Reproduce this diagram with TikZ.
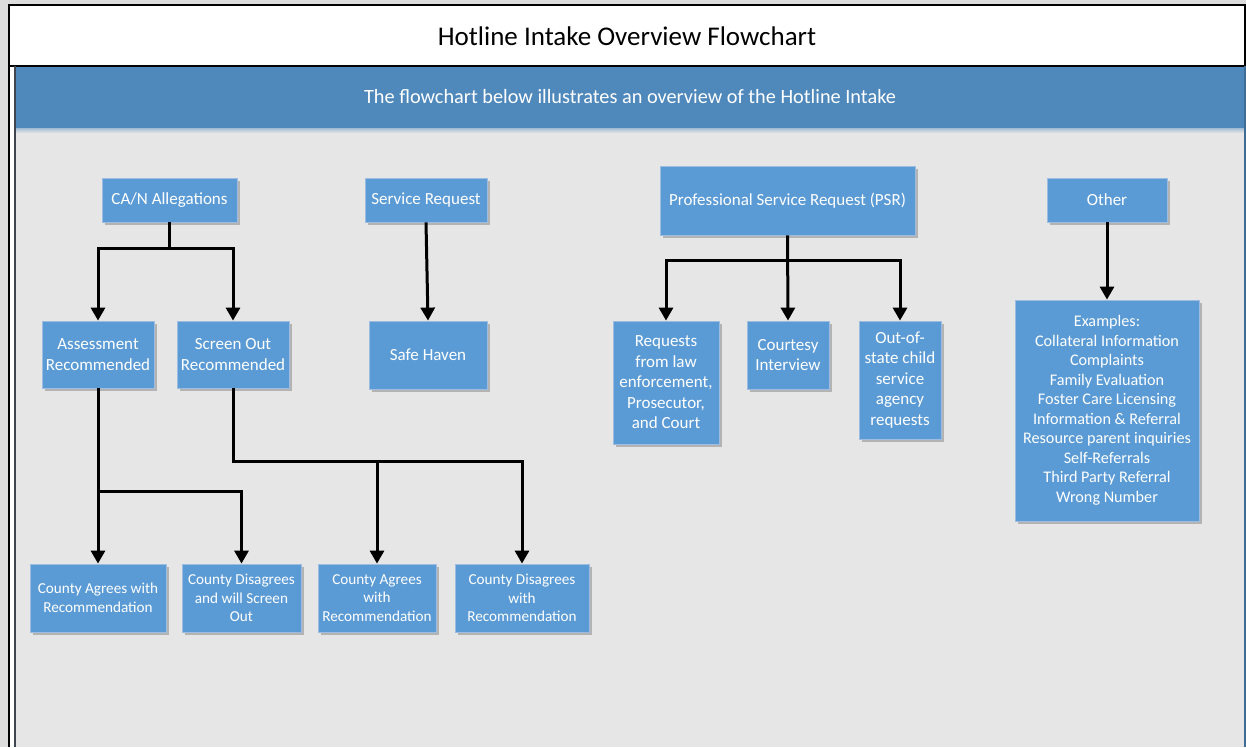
\documentclass[tikz,border=0pt]{standalone}
\usepackage{fontspec}
\setmainfont{Carlito}
\usetikzlibrary{arrows.meta,shadows}
\definecolor{pagegrey}{HTML}{DCDCDC}
\definecolor{areagrey}{HTML}{E6E6E6}
\definecolor{headblue}{HTML}{4F88BB}
\definecolor{boxblue}{HTML}{5B9BD5}
\definecolor{boxedge}{HTML}{9DBCE0}
\definecolor{frameline}{HTML}{3F4650}
\begin{document}
\begin{tikzpicture}[x=1pt,y=-1pt]
	\tikzset{box/.style = {draw=boxedge, line width=0.8pt, fill=boxblue, text=white, align=center, inner sep=0pt,
			font=\fontsize{17}{20.5}\selectfont,
			drop shadow={shadow xshift=3pt, shadow yshift=-3pt, fill=black, opacity=0.22}}}
	\tikzset{smallbox/.style = {box, font=\fontsize{15.2}{18.5}\selectfont}}
	\tikzset{flow/.style = {-{Triangle[width=14pt,length=13pt]}, line width=3pt}}
	\useasboundingbox (0,0) rectangle (1246,747);
	\fill[pagegrey] (0,0) rectangle (1246,747);
	\fill[white] (9,5) rectangle (1245,747);
	\fill[areagrey] (15,128) rectangle (1245,747);
	\fill[headblue] (15,66) rectangle (1245,128);
	\shade[top color=headblue!45!areagrey, bottom color=areagrey] (15,128) rectangle (1245,133);
	\draw[line width=1.5pt] (9,747) -- (9,5) -- (1245,5) -- (1245,66) -- (9,66);
	\draw[frameline, line width=2pt] (15,66) -- (15,747);
	\draw[headblue!80!black, line width=1.5pt] (1245,66) -- (1245,747);
	\node[font=\fontsize{27}{31}\selectfont] (title) at (627,36) {Hotline Intake Overview Flowchart};
	\node[text=white, font=\fontsize{20.3}{24}\selectfont] (subtitle) at (630,97) {The flowchart below illustrates an overview of the Hotline Intake};

	\node[box, minimum width=135pt, minimum height=44pt] (can) at (169.5,200) {CA/N Allegations};
	\node[box, minimum width=122pt, minimum height=44pt] (service) at (426,200) {Service Request};
	\node[box, minimum width=255pt, minimum height=69pt] (psr) at (787.5,200.5) {Professional Service Request (PSR)};
	\node[box, minimum width=120pt, minimum height=44pt] (other) at (1107,200) {Other};

	\node[box, minimum width=112pt, minimum height=67pt] (assess) at (98,354.5) {Assessment\\Recommended};
	\node[box, minimum width=112pt, minimum height=67pt] (screen) at (233,354.5) {Screen Out\\Recommended};
	\node[box, minimum width=118pt, minimum height=68pt] (haven) at (428,355) {Safe Haven};
	\node[box, minimum width=106pt, minimum height=123pt] (law) at (666,382.5) {Requests\\from law\\enforcement,\\Prosecutor,\\and Court};
	\node[box, minimum width=82pt, minimum height=68pt] (courtesy) at (788,355) {Courtesy\\Interview};
	\node[box, minimum width=82pt, minimum height=118pt] (outstate) at (900,380) {Out-of-\\state child\\service\\agency\\requests};
	\node[box, minimum width=184pt, minimum height=221pt, font=\fontsize{16.2}{19.5}\selectfont] (examples) at (1107,410.5) {Examples:\\Collateral Information\\Complaints\\Family Evaluation\\Foster Care Licensing\\Information \& Referral\\Resource parent inquiries\\Self-Referrals\\Third Party Referral\\Wrong Number};

	\node[smallbox, minimum width=136pt, minimum height=68pt] (agreea) at (98,598) {County Agrees with\\Recommendation};
	\node[smallbox, minimum width=119pt, minimum height=68pt] (disagreea) at (241.5,598) {County Disagrees\\and will Screen\\Out};
	\node[smallbox, minimum width=118pt, minimum height=68pt] (agreeb) at (377,598) {County Agrees\\with\\Recommendation};
	\node[smallbox, minimum width=134pt, minimum height=68pt] (disagreeb) at (522,598) {County Disagrees\\with\\Recommendation};

	\coordinate (canfork) at (169.5,248);
	\coordinate (psrfork) at (788,260);
	\coordinate (assessfork) at (98,491);
	\coordinate (screenfork) at (233,461);
	\coordinate (screenmid) at (377,461);

	\draw[flow] (can.south) -- (canfork) -| (assess.north);
	\draw[flow] (canfork) -| (screen.north);
	\draw[flow] (service.south) -- (haven.north);
	\draw[flow] (psr.south) -- (courtesy.north);
	\draw[flow] (psrfork) -| (law.north);
	\draw[flow] (psrfork) -| (outstate.north);
	\draw[flow] (other.south) -- (examples.north);
	\draw[flow] (assess.south) -- (agreea.north);
	\draw[flow] (assessfork) -| (disagreea.north);
	\draw[flow] (screen.south) -- (screenfork) -| (disagreeb.north);
	\draw[flow] (screenmid) -- (agreeb.north);
\end{tikzpicture}
\end{document}
